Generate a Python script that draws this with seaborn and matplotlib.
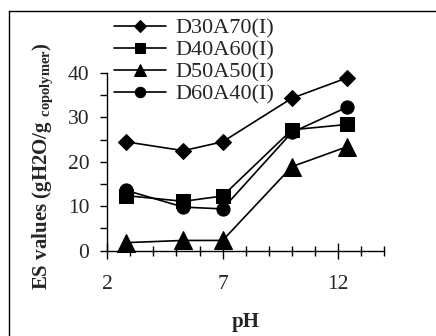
"""
ES values vs pH for the four DxxAyy(I) copolymers
"""
import numpy as np
import pandas as pd
import matplotlib
matplotlib.use("Agg")
import matplotlib.pyplot as plt
import seaborn as sns
from matplotlib.lines import Line2D
from matplotlib.ticker import MultipleLocator, FixedLocator

# values
ph = [2.8, 5.3, 7.0, 10.0, 12.4]
d30a70 = [24.5, 22.5, 24.5, 34.3, 38.9]
d40a60 = [12.4, 11.1, 12.3, 27.2, 28.4]
d50a50 = [1.8, 2.3, 2.3, 18.9, 23.4]
d60a40 = [13.6, 9.8, 9.4, 26.6, 32.3]

series_names = ["D30A70(I)", "D40A60(I)", "D50A50(I)", "D60A40(I)"]
series_values = [d30a70, d40a60, d50a50, d60a40]
series_markers = ["D", "s", "^", "o"]
marker_sizes = [8.2, 10.5, 12.5, 9.5]
legend_marker_sizes = [6, 7.5, 9, 7.5]

x_major = [2, 7, 12]
y_major = [0, 10, 20, 30, 40]

sns.set_style("ticks")
plt.rcParams["font.family"] = ["Liberation Serif", "DejaVu Serif"]
plt.rcParams["mathtext.fontset"] = "custom"
plt.rcParams["mathtext.bf"] = "Liberation Serif:bold"
plt.rcParams["mathtext.rm"] = "Liberation Serif"

fig = plt.figure(figsize=(4.36, 3.36), dpi=100)
ax = fig.add_axes([0.246, 0.254, 0.635, 0.529])

for name, vals, mk, ms in zip(series_names, series_values, series_markers, marker_sizes):
    df = pd.DataFrame({"pH": ph, "ES": vals})
    sns.lineplot(
        data=df, x="pH", y="ES", ax=ax, color="black", marker=mk,
        markersize=ms, markeredgecolor="black", markerfacecolor="black",
        linewidth=1.2, label=name, clip_on=False, zorder=3,
    )

ax.set_xlim(2, 14)
ax.set_ylim(0, 40)
ax.xaxis.set_major_locator(FixedLocator(x_major))
ax.xaxis.set_minor_locator(MultipleLocator(1))
ax.yaxis.set_major_locator(FixedLocator(y_major))
ax.yaxis.set_minor_locator(MultipleLocator(5))
ax.tick_params(axis="x", which="major", direction="inout", length=11, width=1,
               labelsize=15.5, pad=12, color="black")
ax.tick_params(axis="x", which="minor", direction="inout", length=7.5, width=1, color="black")
ax.tick_params(axis="y", which="major", direction="out", length=5, width=1,
               labelsize=15.5, pad=8, color="black")
ax.tick_params(axis="y", which="minor", direction="out", length=5, width=1, color="black")
for s in ["top", "right"]:
    ax.spines[s].set_visible(False)
for s in ["left", "bottom"]:
    ax.spines[s].set_color("black")
    ax.spines[s].set_linewidth(1)
ax.set_xlabel("")
ax.set_ylabel("")

leg = ax.legend(
    loc="upper left", bbox_to_anchor=(0.262, 0.947), bbox_transform=fig.transFigure,
    frameon=False, fontsize=16, handlelength=2.33, handletextpad=0.42,
    labelspacing=0.07, borderpad=0, borderaxespad=0,
)
for h, ms in zip(leg.legend_handles, legend_marker_sizes):
    h.set_markersize(ms)

fig.text(0.563, 0.042, "pH", ha="center", va="center", fontsize=15, fontweight="bold")
fig.text(0.1, 0.506, r"ES values (gH2O/g $_{\mathbf{copolymer}}$)", rotation=90,
         ha="center", va="center", fontsize=15, fontweight="bold")

# outer frame (only left and top edges show in the crop)
fig.add_artist(Line2D([8.5 / 436, 8.5 / 436], [0, 1 - 11 / 336], transform=fig.transFigure,
                      color="black", linewidth=1))
fig.add_artist(Line2D([8.5 / 436, 1], [1 - 11 / 336, 1 - 11 / 336], transform=fig.transFigure,
                      color="black", linewidth=1))

fig.savefig("out.png", dpi=100)
